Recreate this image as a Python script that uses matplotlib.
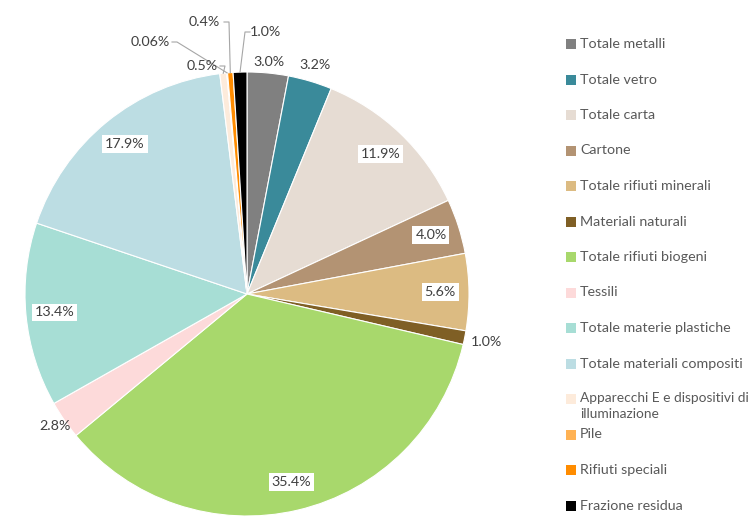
import numpy as np
import matplotlib.pyplot as plt

plt.rcParams['font.family'] = ['Lato', 'DejaVu Sans']

# Composizione dei rifiuti (%)
categorie = ['Totale metalli', 'Totale vetro', 'Totale carta', 'Cartone',
             'Totale rifiuti minerali', 'Materiali naturali', 'Totale rifiuti biogeni',
             'Tessili', 'Totale materie plastiche', 'Totale materiali compositi',
             'Apparecchi E e dispositivi di\nilluminazione', 'Pile',
             'Rifiuti speciali', 'Frazione residua']
valori = [3.0, 3.2, 11.9, 4.0, 5.6, 1.0, 35.4, 2.8, 13.4, 17.9, 0.5, 0.06, 0.4, 1.0]
etichette = ['3.0%', '3.2%', '11.9%', '4.0%', '5.6%', '1.0%', '35.4%', '2.8%',
             '13.4%', '17.9%', '0.5%', '0.06%', '0.4%', '1.0%']
colori = ['#808080', '#3a8a9a', '#e6dcd3', '#b39373', '#dcbb82', '#7f5f25',
          '#a8d86c', '#fddada', '#a7ded5', '#bcdde3', '#fdebdb', '#ffb254',
          '#ff8c00', '#000000']

W, H = 753, 517
fig = plt.figure(figsize=(W / 100, H / 100), dpi=100)
ax = fig.add_axes([0, 0, 1, 1])

cx, cy, R = 247, H - 294, 222
wedges, _ = ax.pie(valori, colors=colori, startangle=90, counterclock=False,
                   center=(cx, cy), radius=R, frame=True,
                   wedgeprops=dict(edgecolor='white', linewidth=0.8))
ax.set_xlim(0, W)
ax.set_ylim(0, H)
ax.set_aspect('equal')
ax.axis('off')

testo_col = '#404040'
fs = 10.3
box = dict(boxstyle='square,pad=0.2', facecolor='white', edgecolor='none')

def punto(ang, r):
    a = np.deg2rad(ang)
    return cx + r * np.cos(a), cy + r * np.sin(a)

# etichette interne
interne = [2, 3, 4, 6, 8, 9]
for i in interne:
    w = wedges[i]
    ang = (w.theta1 + w.theta2) / 2
    x, y = punto(ang, 0.87 * R)
    ax.text(x, y, etichette[i], ha='center', va='center', fontsize=fs,
            color=testo_col, bbox=box)

# etichette esterne senza linee
esterne = {0: 1.05, 1: 1.075, 5: 1.10, 7: 1.05}
for i, f in esterne.items():
    w = wedges[i]
    ang = (w.theta1 + w.theta2) / 2
    x, y = punto(ang, f * R)
    ax.text(x, y, etichette[i], ha='center', va='center', fontsize=fs,
            color=testo_col)

# etichette con linee guida (fette piccole in alto)
guida = {10: ((202, H - 66), (220, 'r')), 11: ((150, H - 42), (172, 'r')),
         12: ((204, H - 22), (224, 'r')), 13: ((265, H - 32), (250, 'l'))}
for i, ((lx, ly), (ex, lato)) in guida.items():
    w = wedges[i]
    ang = (w.theta1 + w.theta2) / 2
    px, py = punto(ang, R)
    ax.text(lx, ly, etichette[i], ha='center', va='center', fontsize=fs,
            color=testo_col)
    hx = ex + (5 if lato == 'r' else -5)
    ax.plot([ex, hx, px], [ly, ly, py], color='#a6a6a6', linewidth=0.8)

# legenda
y0 = H - 44
passo = 35.5
for k, (nome, col) in enumerate(zip(categorie, colori)):
    y = y0 - k * passo
    ax.add_patch(plt.Rectangle((566, y - 5), 10, 10, facecolor=col,
                               edgecolor='none'))
    if '\n' in nome:
        ax.text(580, y + 7, nome, ha='left', va='top', fontsize=9.9,
                color='#595959', linespacing=1.35)
    else:
        ax.text(580, y, nome, ha='left', va='center', fontsize=fs,
                color='#595959')

fig.savefig('out.png', dpi=100)
